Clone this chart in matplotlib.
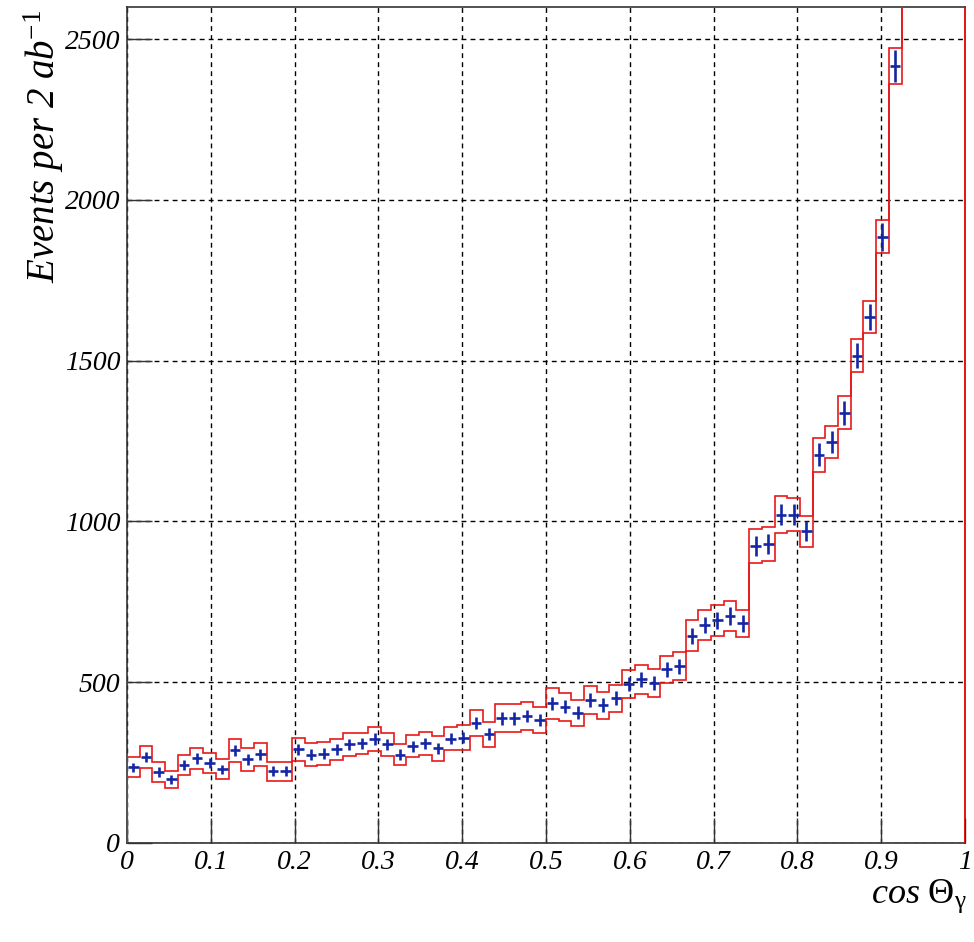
import numpy as np
import matplotlib
matplotlib.use("Agg")
import matplotlib.pyplot as plt

plt.rcParams['font.family'] = 'Liberation Serif'
plt.rcParams['font.style'] = 'italic'
plt.rcParams['mathtext.fontset'] = 'custom'
plt.rcParams['mathtext.rm'] = 'Liberation Serif:style=normal'
plt.rcParams['mathtext.it'] = 'Liberation Serif:style=italic'

# 66 bins in cos(theta_gamma) from 0 to 1
n_bins = 66

# events per bin (last bins run off the top of the plot)
counts = [235, 268, 221, 198, 242, 263, 249, 229, 289, 260,
          276, 223, 223, 291, 275, 278, 291, 307, 310, 323,
          307, 275, 301, 310, 294, 325, 328, 374, 338, 388,
          388, 395, 382, 434, 424, 405, 445, 429, 450, 495,
          509, 498, 540, 550, 644, 678, 692, 706, 683, 924,
          930, 1021, 1021, 969, 1208, 1247, 1338, 1516, 1636, 1886,
          2416, 3200, 4100, 5300, 7000, 9500]

# half height of the red band around each bin
band = [31, 35, 30, 27, 31, 34, 30, 31, 36, 37,
        35, 30, 30, 36, 36, 35, 32, 36, 32, 38,
        35, 33, 35, 36, 38, 35, 38, 40, 39, 43,
        43, 44, 40, 47, 44, 40, 44, 42, 42, 44,
        45, 43, 43, 43, 48, 47, 47, 48, 43, 53,
        54, 57, 51, 48, 53, 51, 51, 51, 49, 51,
        56, 60, 65, 75, 85, 100]

x_ticks = [0, 0.1, 0.2, 0.3, 0.4, 0.5, 0.6, 0.7, 0.8, 0.9, 1]
x_labels = ['0', '0.1', '0.2', '0.3', '0.4', '0.5', '0.6', '0.7', '0.8', '0.9', '1']
y_ticks = [0, 500, 1000, 1500, 2000, 2500]
y_labels = ['0', '500', '1000', '1500', '2000', '2500']

counts = np.array(counts, dtype=float)
band = np.array(band, dtype=float)
edges = np.linspace(0, 1, n_bins + 1)
centers = 0.5 * (edges[1:] + edges[:-1])
width = edges[1] - edges[0]

fig = plt.figure(figsize=(9.74, 9.42), dpi=100)
ax = fig.add_axes([127 / 974, 1 - 843 / 942, 838 / 974, 836 / 942])

# red band: upper and lower outlines
ax.stairs(counts + band, edges, baseline=0, color='#e81818', linewidth=1.2, zorder=3)
ax.stairs(counts - band, edges, baseline=0, color='#e81818', linewidth=1.2, zorder=3)

# blue crosses with statistical errors
ax.errorbar(centers, counts, yerr=np.sqrt(counts), xerr=0.42 * width, fmt='none',
            ecolor='#1426a6', elinewidth=1.9, capsize=0, zorder=4)

ax.set_xlim(0, 1)
ax.set_ylim(0, 2600)
ax.set_xticks(x_ticks)
ax.set_xticklabels(x_labels)
ax.set_yticks(y_ticks)
ax.set_yticklabels(y_labels)
ax.tick_params(direction='in', length=18, width=1, labelsize=20, pad=5, color='#333333')
ax.minorticks_off()

ax.set_axisbelow(True)
ax.grid(True, color='black', linestyle=(0, (3.5, 3)), linewidth=1)
for s in ax.spines.values():
    s.set_linewidth(1.2)
    s.set_color('#333333')

fig.text(44 / 974, 1 - 10 / 942, r'Events per 2 ab$^{\mathit{-1}}$', rotation=90,
         ha='center', va='top', fontsize=28)
fig.text(967 / 974, 1 - 903 / 942, r'$\mathit{cos}\ \mathrm{Θ}_{\mathrm{γ}}$',
         ha='right', va='baseline', fontsize=26)

fig.savefig('out.png', dpi=100)
